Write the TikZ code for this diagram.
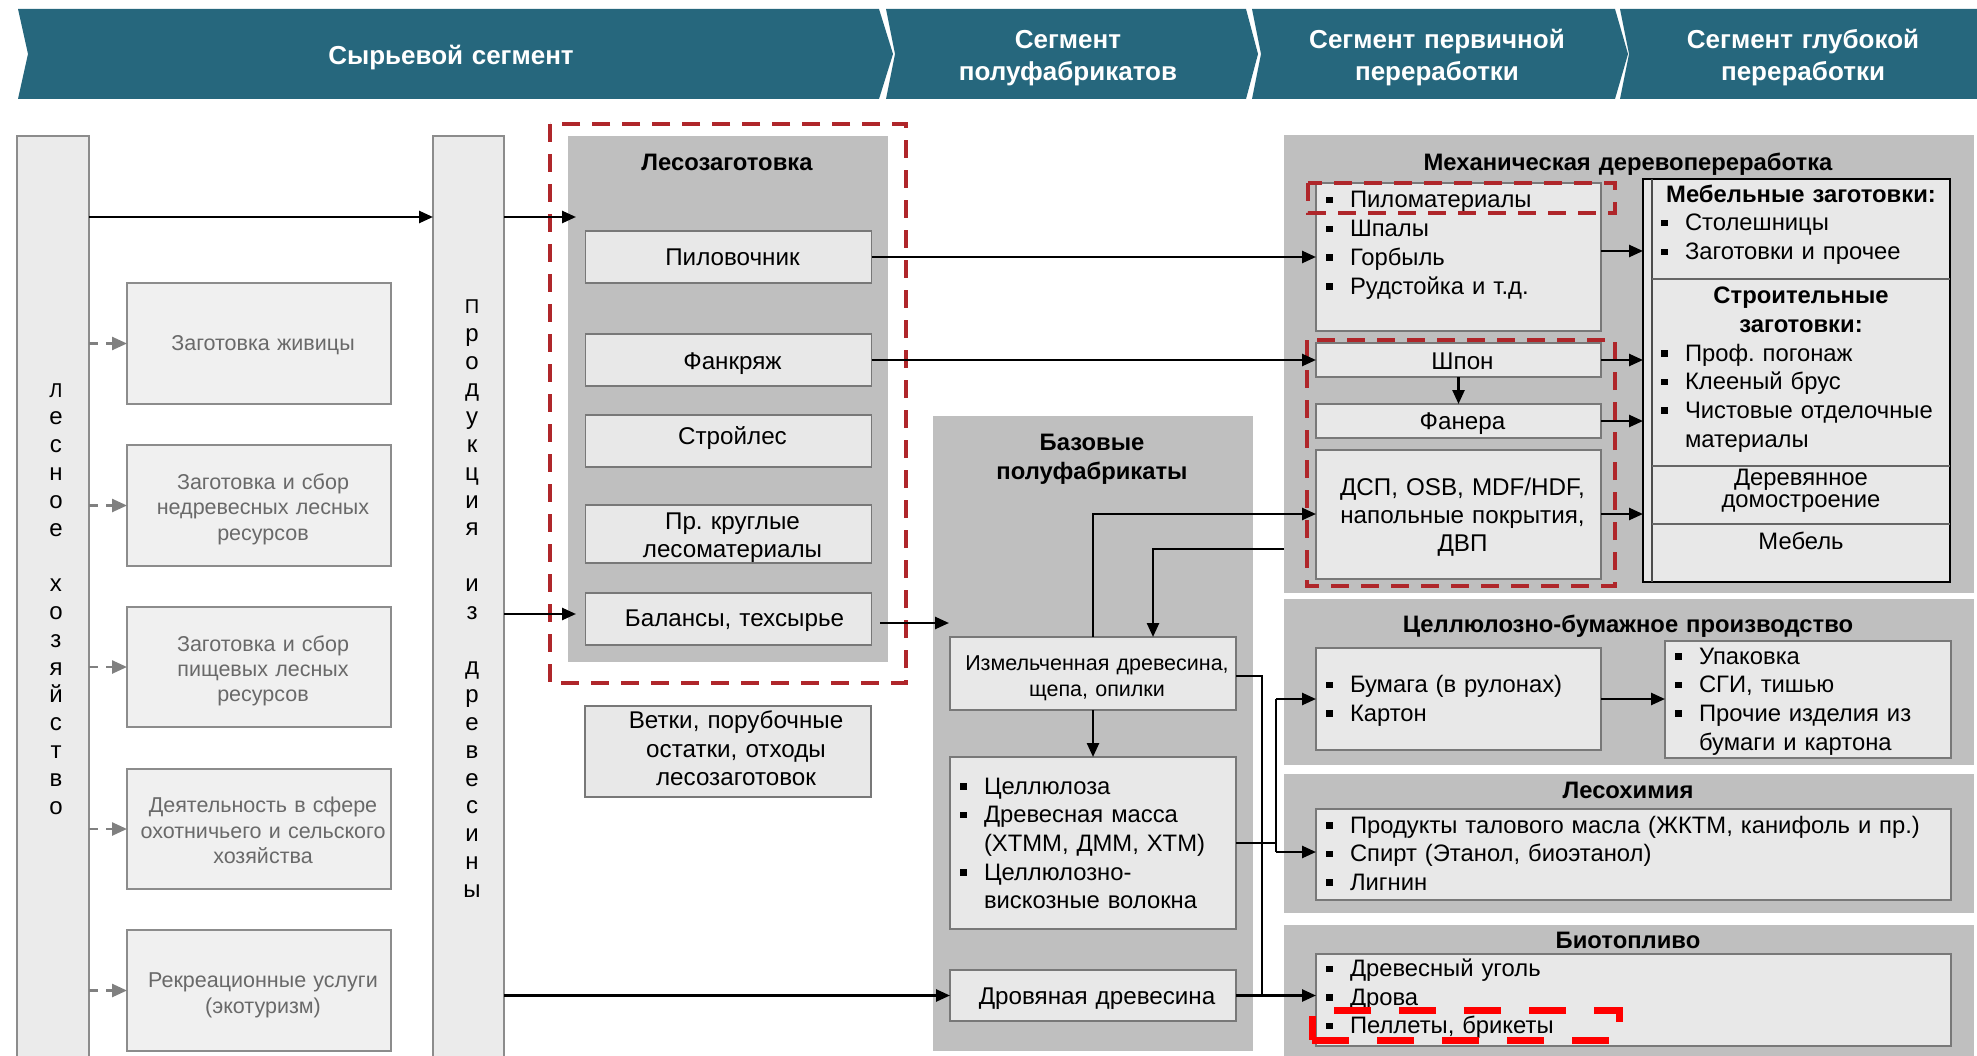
\documentclass[tikz,border=0pt]{standalone}
\usepackage{fontspec}
\setmainfont{Liberation Sans}
\usetikzlibrary{arrows.meta}
\frenchspacing
\definecolor{hdr}{RGB}{38,103,125}
\definecolor{panelc}{RGB}{191,191,191}
\definecolor{boxc}{RGB}{232,232,232}
\definecolor{boxd}{RGB}{120,120,120}
\definecolor{lboxc}{RGB}{240,240,240}
\definecolor{lboxd}{RGB}{140,140,140}
\definecolor{ltxt}{RGB}{105,105,105}
\definecolor{vboxc}{RGB}{235,235,235}
\definecolor{dred}{RGB}{175,38,42}
\definecolor{bred}{RGB}{255,0,0}
\definecolor{garr}{RGB}{128,128,128}
\newcommand\fs[2]{\fontsize{#1}{#2}\selectfont}
\newcommand\bul{\makebox[24pt][l]{\rule[4.5pt]{6.5pt}{6.5pt}}}
\newcommand\ind{\hspace*{24pt}}
% plain box by corners
\newcommand\pbox[6]{\node[#6, minimum width={#4-#2}, minimum height={#5-#3}] (#1) at ({(#2+#4)/2},{(#3+#5)/2}) {};}
% box by corners with centred text whose first baseline is given
\newcommand\tbox[9]{\node[#6, minimum width={#4-#2}, minimum height={#5-#3}] (#1) at ({(#2+#4)/2},{(#3+#5)/2}) {};
  \node[#7, anchor=base, text width={#4-#2}, align=center] (#1t) at ({(#2+#4)/2+4},#8) {#9};}
\tikzset{
  every node/.style={inner sep=0pt, outer sep=0pt},
  htxt/.style={text=white, font=\bfseries\fs{26}{32}, align=center, text width=400pt, anchor=base},
  panel/.style={fill=panelc, draw=none},
  ibox/.style={fill=boxc, draw=boxd, line width=1.5pt},
  itxt/.style={font=\fs{24.2}{28.6}},
  lbox/.style={fill=lboxc, draw=lboxd, line width=1.5pt},
  ltx/.style={font=\fs{21.5}{25.3}, text=ltxt},
  vbox/.style={fill=vboxc, draw=lboxd, line width=1.5pt},
  vtxt/.style={text width=30pt, align=center, font=\fs{24}{27.8}},
  ttl/.style={font=\bfseries\fs{23.8}{29}, align=center, text width=600pt, anchor=base},
  ctx/.style={font=\fs{23.8}{28.5}, align=center, text width=300pt, anchor=base},
  lst/.style={text width=640pt, align=left, font=\fs{23.8}{28.7}, anchor=base west},
  arr/.style={line width=2.5pt, -{Triangle[length=14pt,width=12pt]}},
  ln/.style={line width=2.5pt},
  garrow/.style={draw=garr, line width=2.5pt, dash pattern=on 9pt off 8pt, -{Triangle[length=15pt,width=13pt]}},
  rdash/.style={draw=dred, line width=4pt, dash pattern=on 18pt off 12pt},
  bdash/.style={draw=bred, line width=7pt, dash pattern=on 37pt off 28pt},
}
\begin{document}
\begin{tikzpicture}[x=1pt,y=-1pt]
\useasboundingbox (0,0) rectangle (1977,1056);
\clip (0,0) rectangle (1977,1056);
% header
\fill[hdr] (18,9) -- (879,9) -- (893,54) -- (879,99) -- (18,99) -- (28,54) -- cycle;
\fill[hdr] (886,9) -- (1246,9) -- (1258,54) -- (1246,99) -- (886,99) -- (895,54) -- cycle;
\fill[hdr] (1252,9) -- (1615,9) -- (1628,54) -- (1615,99) -- (1252,99) -- (1261,54) -- cycle;
\fill[hdr] (1620,9) -- (1977,9) -- (1977,99) -- (1620,99) -- (1629,54) -- cycle;
\node[htxt] (h1) at (451,64.5) {Сырьевой сегмент};
\node[htxt] (h2) at (1068,48.5) {Сегмент\\полуфабрикатов};
\node[htxt] (h3) at (1437,48.5) {Сегмент первичной\\переработки};
\node[htxt] (h4) at (1803,48.5) {Сегмент глубокой\\переработки};
% left columns
\pbox{lh}{17}{136}{89}{1070}{vbox}
\pbox{pd}{433}{136}{504}{1070}{vbox}
\node[vtxt, anchor=base] (lhtxt) at (56,397) {{\fs{20}{27.8}Л}\\е\\с\\н\\о\\е\\[27.8pt]х\\о\\з\\я\\й\\с\\т\\в\\о};
\node[vtxt, anchor=base] (pdtxt) at (472,313.5) {{\fs{20}{27.8}П}\\р\\о\\д\\у\\к\\ц\\и\\я\\[27.8pt]и\\з\\[27.8pt]д\\р\\е\\в\\е\\с\\и\\н\\ы};
\tbox{g1}{127}{283}{391}{404}{lbox}{ltx}{350.7}{Заготовка живицы}
\tbox{g2}{127}{445}{391}{566}{lbox}{ltx}{489.5}{Заготовка и сбор\\недревесных лесных\\ресурсов}
\tbox{g3}{127}{607}{391}{727}{lbox}{ltx}{651}{Заготовка и сбор\\пищевых лесных\\ресурсов}
\tbox{g4}{127}{769}{391}{889}{lbox}{ltx}{812.7}{Деятельность в сфере\\охотничьего и сельского\\хозяйства}
\tbox{g5}{127}{930}{391}{1051}{lbox}{ltx}{987.7}{Рекреационные услуги\\(экотуризм)}
% Lesozagotovka
\pbox{lzp}{568}{136}{888}{662}{panel}
\node[ttl] (lzt) at (727,170.5) {Лесозаготовка};
\tbox{pil}{585.5}{231}{871.5}{283}{ibox}{itxt}{265.7}{Пиловочник}
\tbox{fan}{585.5}{334}{871.5}{386}{ibox}{itxt}{369}{Фанкряж}
\tbox{strl}{585.5}{415}{871.5}{467}{ibox}{itxt}{444.8}{Стройлес}
\tbox{prk}{585.5}{505}{871.5}{563}{ibox}{itxt}{529.3}{Пр. круглые\\лесоматериалы}
\tbox{bal}{585.5}{593}{871.5}{645}{ibox}{itxt}{626.4}{\hspace*{4pt}Балансы, техсырье}
\tbox{vet}{585}{706}{871}{797}{ibox}{itxt}{728.5}{\hspace*{8pt}Ветки, порубочные\\\hspace*{8pt}остатки, отходы\\\hspace*{8pt}лесозаготовок}
\draw[rdash] (550,124) rectangle (906,683);
% Bazovye
\pbox{bzp}{933}{416}{1253}{1051}{panel}
\node[ttl] (bzt) at (1092,450.5) {Базовые\\полуфабрикаты};
\tbox{izm}{950}{637}{1236}{710}{ibox}{font=\fs{21.5}{26}}{670}{Измельченная древесина,\\щепа, опилки}
\pbox{cel}{950}{757}{1236}{929}{ibox}
\node[lst] (celt) at (960,794) {\bul Целлюлоза\\\bul Древесная масса\\\ind(ХТММ, ДММ, ХТМ)\\\bul Целлюлозно-\\\ind вискозные волокна};
\tbox{drv}{950}{970}{1236}{1021}{ibox}{itxt}{1004.5}{Дровяная древесина}
% Mechanical
\pbox{mp}{1284}{135}{1974}{593}{panel}
\node[ttl] (mt) at (1628,171) {Механическая деревопереработка};
\pbox{mb1}{1316}{183}{1601}{331}{ibox}
\node[lst] (mb1t) at (1326,208) {\bul Пиломатериалы\\\bul Шпалы\\\bul Горбыль\\\bul Рудстойка и т.д.};
\tbox{shp}{1316}{343}{1601}{377}{ibox}{itxt}{369}{Шпон}
\tbox{fnr}{1316}{404}{1601}{438}{ibox}{itxt}{429.7}{Фанера}
\tbox{dsp}{1316}{450}{1601}{579}{ibox}{font=\fs{24.2}{28.3}}{495}{ДСП, OSB, MDF/HDF,\\напольные покрытия,\\ДВП}
\draw[rdash] (1308,183) rectangle (1615,213);
\draw[rdash] (1307,340) rectangle (1615,586);
\pbox{rb}{1643}{179}{1950}{582}{fill=boxc, draw=black, line width=2.5pt}
\draw[line width=1.2pt, draw=black!70] (1652,179) -- (1652,582);
\draw[line width=1.5pt, draw=black!60] (1652,279) -- (1950,279) (1652,466) -- (1950,466) (1652,524) -- (1950,524);
\node[ttl] (rb1) at (1801,202.5) {Мебельные заготовки:};
\node[lst] (rb1l) at (1661,231) {\bul Столешницы\\\bul Заготовки и прочее};
\node[ttl, font=\bfseries\fs{23.8}{28.5}] (rb2) at (1801,304) {Строительные\\заготовки:};
\node[lst] (rb2l) at (1661,361) {\bul Проф. погонаж\\\bul Клееный брус\\\bul Чистовые отделочные\\\ind материалы};
\node[ctx, font=\fs{23.8}{22.7}] (rb3) at (1801,485) {Деревянное\\домостроение};
\node[ctx] (rb4) at (1801,549) {Мебель};
% Pulp and paper
\pbox{cbp}{1284}{599}{1974}{765}{panel}
\node[ttl] (cbt) at (1628,632) {Целлюлозно-бумажное производство};
\pbox{bum}{1316}{648}{1601}{750}{ibox}
\node[lst] (bumt) at (1326,692.5) {\bul Бумага (в рулонах)\\\bul Картон};
\pbox{upk}{1665}{641}{1951}{758}{ibox}
\node[lst] (upkt) at (1675,664) {\bul Упаковка\\\bul СГИ, тишью\\\bul Прочие изделия из\\\ind бумаги и картона};
% Wood chemistry
\pbox{lhp}{1284}{774}{1974}{913}{panel}
\node[ttl] (lhpt) at (1628,798.5) {Лесохимия};
\pbox{lhb}{1316}{809}{1951}{900}{ibox}
\node[lst] (lhbt) at (1326,833) {\bul Продукты талового масла (ЖКТМ, канифоль и пр.)\\\bul Спирт (Этанол, биоэтанол)\\\bul Лигнин};
% Biofuel
\pbox{bip}{1284}{925}{1974}{1070}{panel}
\node[ttl] (bipt) at (1628,948) {Биотопливо};
\pbox{bib}{1316}{954}{1951}{1046}{ibox}
\node[lst] (bibt) at (1326,976.5) {\bul Древесный уголь\\\bul Дрова\\\bul Пеллеты, брикеты};
\draw[bdash] (1312,1040) -- (1619,1040) -- (1619,1010) -- (1312,1010) -- cycle;
% connectors
\coordinate (c217) at (0,217);
\coordinate (lzin) at (576,217);
\coordinate (balin) at (576,614);
\coordinate (balout) at (880,623);
\coordinate (bzin) at (949,623);
\coordinate (y251) at (0,251);
\coordinate (y514) at (0,514);
\coordinate (y549) at (1284,549);
\coordinate (x1153) at (1153,0);
\coordinate (y676) at (0,676);
\coordinate (x1262) at (1262,0);
\coordinate (y843) at (0,843);
\coordinate (x1276) at (1276,0);
\coordinate (y852) at (0,852);
\foreach \g in {g1,g2,g3,g4,g5} \draw[garrow] (lh.east |- \g.west) -- (\g.west);
\draw[arr] (lh.east |- c217) -- (pd.west |- c217);
\draw[arr] (pd.east |- c217) -- (lzin);
\draw[arr] (pd.east |- balin) -- (balin);
\draw[arr] (balout) -- (bzin);
\draw[arr] (pd.east |- drv.west) -- (drv.west);
\draw[arr] (pil.east) -- (mb1.west |- pil.east);
\draw[arr] (fan.east) -- (shp.west |- fan.east);
\draw[arr] (shp.south) -- (fnr.north);
\draw[arr] (mb1.east |- y251) -- (rb.west |- y251);
\draw[arr] (shp.east) -- (rb.west |- shp.east);
\draw[arr] (fnr.east) -- (rb.west |- fnr.east);
\draw[arr] (dsp.east |- y514) -- (rb.west |- y514);
\draw[arr] (izm.north) -- (izm.north |- y514) -- (dsp.west |- y514);
\draw[arr] (y549) -- (x1153 |- y549) -- (x1153 |- izm.north);
\draw[arr] (izm.south) -- (cel.north);
\draw[ln] (izm.east |- y676) -- (x1262 |- y676) -- (x1262 |- drv.east);
\draw[arr] (drv.east) -- (bib.west |- drv.east);
\draw[ln] (cel.east |- y843) -- (x1276 |- y843);
\draw[ln] (bum.west -| x1276) -- (x1276 |- y852);
\draw[arr] (bum.west -| x1276) -- (bum.west);
\draw[arr] (x1276 |- y852) -- (lhb.west |- y852);
\draw[arr] (bum.east) -- (upk.west |- bum.east);
\end{tikzpicture}
\end{document}
